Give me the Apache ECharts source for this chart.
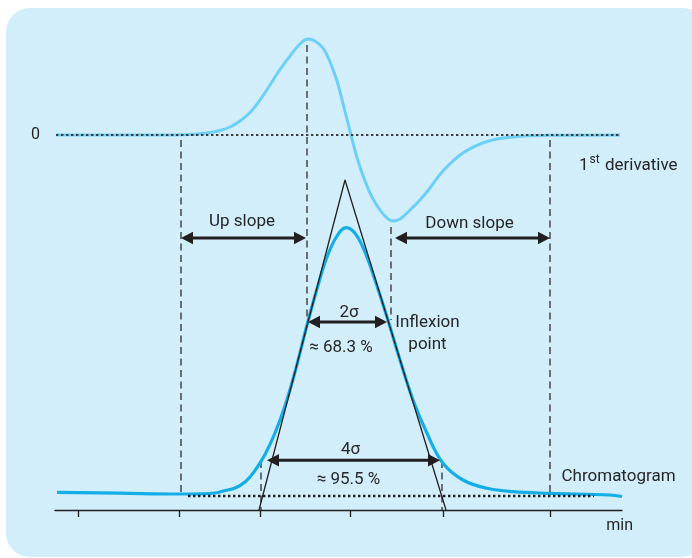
<!DOCTYPE html>
<html>
<head>
<meta charset="utf-8">
<script src="https://cdn.jsdelivr.net/npm/echarts@6/dist/echarts.min.js"></script>
<style>
  html, body { margin: 0; padding: 0; background: #ffffff; }
  #chart { width: 692px; height: 558px; }
</style>
</head>
<body>
<div id="chart"></div>
<script>
// Chromatogram trace: retention time vs. detector signal
const chromTime = [0.2, 6.5, 12.5, 14.5, 16.0, 17.0, 18.0, 19.0, 20.0, 21.0, 22.0, 23.0, 24.0, 25.2,
  26.2, 27.2, 28.2, 29.1, 30.0, 31.0, 32.0, 33.2, 34.5, 35.8, 37.2, 38.8, 40.8, 43.2, 45.8,
  49.5, 55.5, 56.7];
const chromSignal = [1.77, 1.68, 1.6, 1.62, 1.7, 1.95, 2.2, 2.8, 3.95, 5.55, 7.7, 10.4, 13.8, 18.5,
  22.1, 25.3, 27.4, 28.23, 27.67, 25.8, 23.0, 19.3, 15.0, 11.0, 7.67, 4.67, 3.0, 2.17, 1.83,
  1.67, 1.5, 1.35];

// First derivative of the chromatogram
const derivTime = [0.1, 9.5, 13.5, 15.5, 16.5, 17.5, 18.5, 19.5, 20.5, 21.5, 22.5, 23.5, 24.5, 25.3,
  26.0, 26.8, 27.5, 28.2, 28.9, 29.6, 30.3, 31.0, 31.7, 32.5, 33.2, 33.8, 34.5, 35.5, 36.5, 37.5,
  38.8, 40.8, 43.2, 45.8, 49.5, 56.5];
const derivValue = [0, 0, 0.05, 0.25, 0.45, 0.8, 1.4, 2.25, 3.5, 5.0, 6.55, 7.9, 9.1, 9.6,
  9.4, 8.7, 7.3, 5.4, 2.75, 0, -2.6, -4.6, -6.2, -7.5, -8.3, -8.6, -8.4, -7.5, -6.5, -5.3,
  -3.6, -1.8, -0.65, -0.2, -0.03, 0];

// Inflexion tangents meeting above the apex
const tangentTime = [20.4, 29.0, 39.1];
const tangentSignal = [0, 33.0, 0];

// Peak baseline and derivative zero level
const baselineTime = [13.3, 53.9];
const baselineSignal = [1.4, 1.4];
const zeroTime = [0.1, 56.5];
const zeroValue = [0, 0];

// Time axis ticks
const tickTimes = [2.3, 12.4, 20.5, 29.5, 38.8, 49.5];

// Vertical guides: peak start, inflexions, peak end, ±2σ
const guideTime = [12.6, 25.2, 33.6, 49.5, 20.6, 38.7];
const guideTop = [37.0, 46.5, 28.3, 37.0, 4.9, 4.9];
const guideBottom = [1.6, 19.0, 19.0, 1.6, 0, 0];

// Double-headed range arrows: up slope, down slope, 2σ, 4σ
const arrowStart = [12.6, 34.0, 25.3, 21.2];
const arrowEnd = [25.1, 49.5, 33.2, 38.5];
const arrowLevel = [27.2, 27.2, 18.8, 4.97];

// Annotations
const noteText = ['Up slope', 'Down slope', '2σ', '≈ 68.3 %', 'Inflexion\npoint', '4σ', '≈ 95.5 %',
  'Chromatogram', '1st derivative'];
const noteTime = [18.7, 41.45, 29.4, 28.6, 37.25, 29.55, 29.35, 50.65, 52.4];
const noteLevel = [28.78, 28.58, 19.7, 16.25, 17.6, 6.0, 3.07, 3.3, 34.6];

const INK = '#262626';
const FONT = 'Roboto, "Liberation Sans", sans-serif';
const leftAligned = { 'Chromatogram': true, '1st derivative': true };

const pairs = (xs, ys) => xs.map((x, i) => [x, ys[i]]);

const chart = echarts.init(document.getElementById('chart'), null, { renderer: 'canvas' });

chart.setOption({
  animation: false,
  backgroundColor: '#ffffff',
  graphic: [{
    type: 'rect',
    z: -10,
    shape: { x: 6, y: 8, width: 700, height: 549, r: 24 },
    style: { fill: '#d3eefb' }
  }],
  grid: { left: 55, right: 70, top: 30, bottom: 48 },
  xAxis: {
    type: 'value',
    min: 0,
    max: 56.7,
    name: 'min',
    nameLocation: 'end',
    nameGap: 11,
    nameTextStyle: {
      color: INK, fontFamily: FONT, fontSize: 16,
      align: 'right', verticalAlign: 'top', padding: [8, 0, 0, 0]
    },
    axisLine: { show: true, lineStyle: { color: '#1e1e1e', width: 1.3 } },
    axisTick: {
      show: true, customValues: tickTimes, length: 7, inside: false,
      lineStyle: { color: '#1e1e1e', width: 1.3 }
    },
    axisLabel: { show: false },
    splitLine: { show: false }
  },
  yAxis: [{
    type: 'value', min: 0, max: 48, show: false
  }, {
    type: 'value', min: -37.5, max: 10.5, position: 'left',
    axisLine: { show: false },
    axisTick: { show: false },
    splitLine: { show: false },
    axisLabel: { customValues: [0], margin: 15, color: INK, fontFamily: FONT, fontSize: 16 }
  }],
  series: [
    {
      name: 'guides',
      type: 'custom',
      z: 3,
      data: guideTime.map((t, i) => [t, guideTop[i], guideBottom[i]]),
      renderItem(params, api) {
        const a = api.coord([api.value(0), api.value(1)]);
        const b = api.coord([api.value(0), api.value(2)]);
        return {
          type: 'line',
          shape: { x1: a[0], y1: a[1], x2: b[0], y2: b[1] },
          style: { stroke: '#3a3a3a', lineWidth: 1.4, lineDash: [7, 4.5] }
        };
      }
    },
    {
      name: '1st derivative',
      type: 'line',
      yAxisIndex: 1,
      z: 4,
      data: pairs(derivTime, derivValue),
      smooth: 0.4,
      showSymbol: false,
      lineStyle: { color: '#6ccff6', width: 3 }
    },
    {
      name: 'zero',
      type: 'line',
      yAxisIndex: 1,
      z: 5,
      data: pairs(zeroTime, zeroValue),
      showSymbol: false,
      lineStyle: { color: '#3c3c3c', width: 2, type: [2.4, 2.6] }
    },
    {
      name: 'Chromatogram',
      type: 'line',
      z: 4,
      data: pairs(chromTime, chromSignal),
      smooth: 0.4,
      showSymbol: false,
      lineStyle: { color: '#14ade8', width: 3.2 }
    },
    {
      name: 'baseline',
      type: 'line',
      z: 5,
      data: pairs(baselineTime, baselineSignal),
      showSymbol: false,
      lineStyle: { color: '#1e1e1e', width: 2.4, type: [2.4, 2.6] }
    },
    {
      name: 'tangents',
      type: 'line',
      z: 6,
      data: pairs(tangentTime, tangentSignal),
      showSymbol: false,
      lineStyle: { color: '#231f20', width: 1.3 }
    },
    {
      name: 'ranges',
      type: 'custom',
      z: 7,
      data: arrowStart.map((s, i) => [s, arrowEnd[i], arrowLevel[i]]),
      renderItem(params, api) {
        const a = api.coord([api.value(0), api.value(2)]);
        const b = api.coord([api.value(1), api.value(2)]);
        const head = 12, half = 6.2;
        const y = a[1];
        return {
          type: 'group',
          children: [
            {
              type: 'line',
              shape: { x1: a[0] + head - 1, y1: y, x2: b[0] - head + 1, y2: y },
              style: { stroke: '#231f20', lineWidth: 3 }
            },
            {
              type: 'polygon',
              shape: { points: [[a[0], y], [a[0] + head, y - half], [a[0] + head, y + half]] },
              style: { fill: '#231f20' }
            },
            {
              type: 'polygon',
              shape: { points: [[b[0], y], [b[0] - head, y - half], [b[0] - head, y + half]] },
              style: { fill: '#231f20' }
            }
          ]
        };
      }
    },
    {
      name: 'notes',
      type: 'custom',
      z: 8,
      data: noteTime.map((t, i) => [t, noteLevel[i], i]),
      renderItem(params, api) {
        const i = api.value(2);
        const p = api.coord([api.value(0), api.value(1)]);
        const label = noteText[i];
        const isDeriv = label === '1st derivative';
        return {
          type: 'text',
          x: p[0],
          y: p[1],
          style: {
            text: isDeriv ? '{n|1}{s|st}{n| derivative}' : label,
            fill: INK,
            fontFamily: FONT,
            fontSize: 17,
            lineHeight: 22,
            align: leftAligned[label] ? 'left' : 'center',
            verticalAlign: 'middle',
            rich: isDeriv ? {
              n: { fontFamily: FONT, fontSize: 17, fill: INK, lineHeight: 20, verticalAlign: 'bottom' },
              s: { fontFamily: FONT, fontSize: 12, fill: INK, lineHeight: 20, verticalAlign: 'top', padding: [0, 1, 0, 1] }
            } : undefined
          }
        };
      }
    }
  ]
});
</script>
</body>
</html>
